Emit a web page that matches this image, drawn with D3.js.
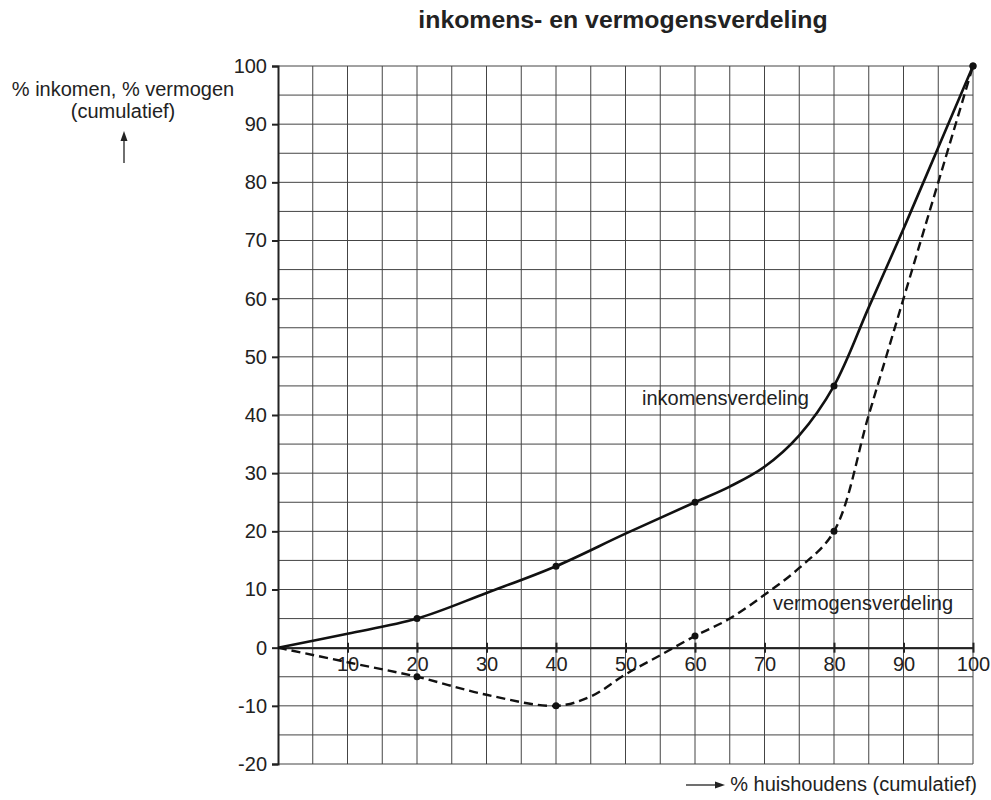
<!DOCTYPE html>
<html>
<head>
<meta charset="utf-8">
<script src="https://cdn.jsdelivr.net/npm/d3@7"></script>
<style>
  body { margin: 0; background: #fff; }
  text { font-family: "Liberation Sans", Arial, sans-serif; fill: #222; }
</style>
</head>
<body>
<div id="chart"></div>
<script>
// marked points (every 20%)
var households = [0, 20, 40, 60, 80, 100];
var income = [0, 5, 14, 25, 45, 100];
var wealth = [0, -5, -10, 2, 20, 100];

// curves
var incomeX = [0, 10, 20, 30, 40, 50, 60, 65, 70, 75, 80, 85, 90, 95, 100];
var incomeCurve = [0, 2.4, 5, 9.4, 14, 19.6, 25, 27.7, 31.1, 36.5, 45, 58.5, 72, 86, 100];
var wealthX = [0, 10, 20, 30, 40, 45, 50, 55, 60, 65, 70, 75, 80, 85, 90, 95, 100];
var wealthCurve = [0, -2.5, -5, -8.1, -10, -8.4, -4.6, -1.3, 2, 5, 9.1, 13.7, 20, 40, 60, 80, 100];

var xTicks = [10, 20, 30, 40, 50, 60, 70, 80, 90, 100];
var yTicks = [-20, -10, 0, 10, 20, 30, 40, 50, 60, 70, 80, 90, 100];

var W = 991, H = 800;
var m = { top: 66, right: 18, bottom: 36, left: 278 };

var svg = d3.select("#chart").append("svg")
  .attr("width", W)
  .attr("height", H);

var x = d3.scaleLinear().domain([0, 100]).range([m.left, W - m.right]);
var y = d3.scaleLinear().domain([-20, 100]).range([H - m.bottom, m.top]);

//grid
var grid = svg.append("g");
grid.selectAll(".vl")
  .data(d3.range(5, 101, 5))
  .enter().append("line")
  .attr("x1", function (d) { return x(d); })
  .attr("x2", function (d) { return x(d); })
  .attr("y1", y(-20))
  .attr("y2", y(100))
  .attr("stroke", "#444")
  .attr("stroke-width", 1);

grid.selectAll(".hl")
  .data(d3.range(-20, 101, 5))
  .enter().append("line")
  .attr("x1", x(0))
  .attr("x2", x(100))
  .attr("y1", function (d) { return y(d); })
  .attr("y2", function (d) { return y(d); })
  .attr("stroke", "#444")
  .attr("stroke-width", 1);

var fmt = function (d) { return String(d); };

// y axis
var yAxis = d3.axisLeft(y).tickValues(yTicks).tickFormat(fmt).tickSize(6).tickPadding(5);
var gy = svg.append("g")
  .attr("transform", "translate(" + x(0) + ",0)")
  .call(yAxis);
gy.select(".domain").attr("stroke", "#222").attr("stroke-width", 2);
gy.selectAll(".tick line").attr("stroke", "#222").attr("stroke-width", 2);
gy.selectAll("text").attr("font-size", 20).attr("fill", "#222")
  .attr("font-family", "Liberation Sans, Arial, sans-serif");

// x axis on the zero line
var xAxis = d3.axisBottom(x).tickValues(xTicks).tickFormat(fmt).tickSize(5).tickPadding(4).tickSizeOuter(0);
var gx = svg.append("g")
  .attr("transform", "translate(0," + y(0) + ")")
  .call(xAxis);
gx.select(".domain").attr("stroke", "#222").attr("stroke-width", 2);
gx.selectAll(".tick line").attr("y1", -5).attr("stroke", "#222").attr("stroke-width", 2);
gx.selectAll("text").attr("font-size", 20).attr("fill", "#222")
  .attr("font-family", "Liberation Sans, Arial, sans-serif");

// lines
var line = d3.line()
  .x(function (d) { return x(d[0]); })
  .y(function (d) { return y(d[1]); })
  .curve(d3.curveCatmullRom.alpha(0.5));

var incLine = incomeX.map(function (h, i) { return [h, incomeCurve[i]]; });
var wltLine = wealthX.map(function (h, i) { return [h, wealthCurve[i]]; });
var incPts = households.map(function (h, i) { return [h, income[i]]; });
var wltPts = households.map(function (h, i) { return [h, wealth[i]]; });

svg.append("path")
  .datum(incLine)
  .attr("d", line)
  .attr("fill", "none")
  .attr("stroke", "#111")
  .attr("stroke-width", 2.6);

svg.append("path")
  .datum(wltLine)
  .attr("d", line)
  .attr("fill", "none")
  .attr("stroke", "#111")
  .attr("stroke-width", 2.4)
  .attr("stroke-dasharray", "9,5");

svg.append("g").selectAll("circle")
  .data(incPts.slice(1).concat(wltPts.slice(1)))
  .enter().append("circle")
  .attr("cx", function (d) { return x(d[0]); })
  .attr("cy", function (d) { return y(d[1]); })
  .attr("r", 3.5)
  .attr("fill", "#111");

// labels
svg.append("text")
  .attr("x", 623)
  .attr("y", 28)
  .attr("text-anchor", "middle")
  .attr("font-size", 24.8)
  .attr("font-weight", "bold")
  .text("inkomens- en vermogensverdeling");

svg.append("text")
  .attr("x", 642)
  .attr("y", 405)
  .attr("font-size", 20)
  .text("inkomensverdeling");

svg.append("text")
  .attr("x", 773)
  .attr("y", 610)
  .attr("font-size", 20)
  .text("vermogensverdeling");

svg.append("text")
  .attr("x", 123)
  .attr("y", 96)
  .attr("text-anchor", "middle")
  .attr("font-size", 20)
  .text("% inkomen, % vermogen");

svg.append("text")
  .attr("x", 123)
  .attr("y", 118)
  .attr("text-anchor", "middle")
  .attr("font-size", 20)
  .text("(cumulatief)");

svg.append("text")
  .attr("x", 977)
  .attr("y", 791)
  .attr("text-anchor", "end")
  .attr("font-size", 20)
  .text("% huishoudens (cumulatief)");

// arrows
svg.append("line")
  .attr("x1", 124).attr("x2", 124)
  .attr("y1", 163).attr("y2", 140)
  .attr("stroke", "#222").attr("stroke-width", 1.3);
svg.append("path")
  .attr("d", "M124,131 L120.5,141 L127.5,141 Z")
  .attr("fill", "#222");

svg.append("line")
  .attr("x1", 686).attr("x2", 716)
  .attr("y1", 785).attr("y2", 785)
  .attr("stroke", "#222").attr("stroke-width", 1.3);
svg.append("path")
  .attr("d", "M725,785 L715,781.5 L715,788.5 Z")
  .attr("fill", "#222");
</script>
</body>
</html>
